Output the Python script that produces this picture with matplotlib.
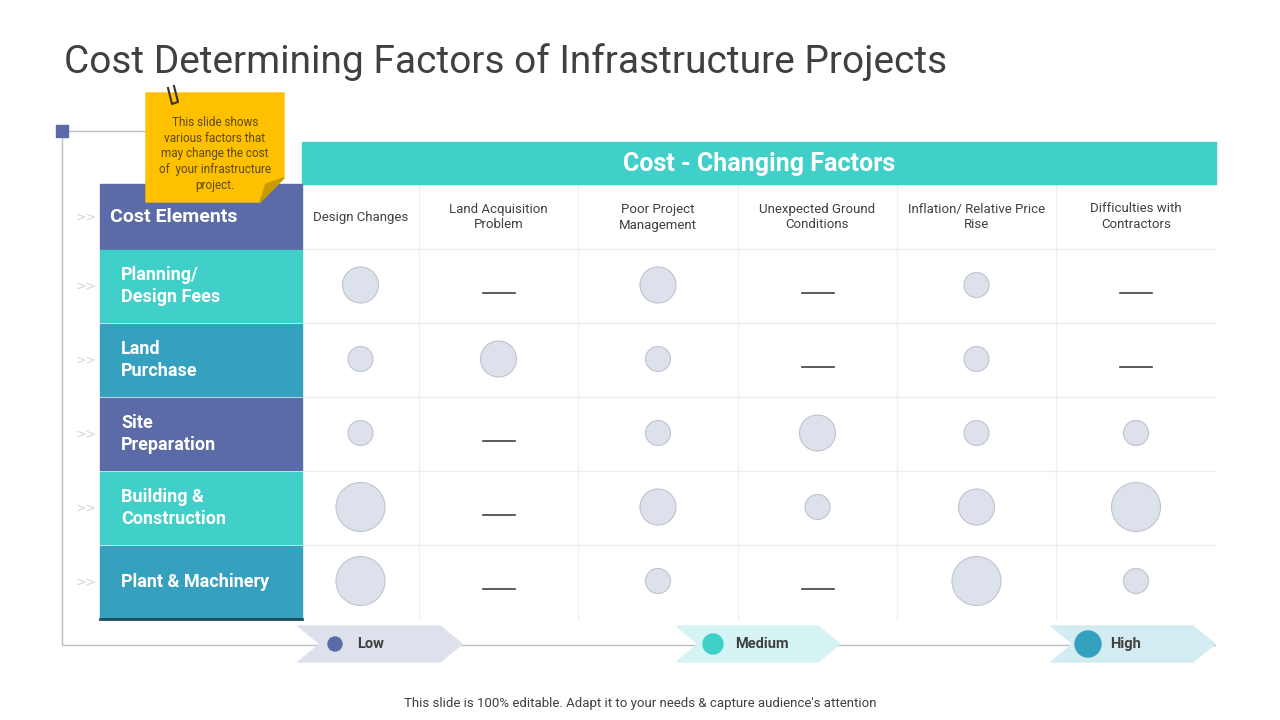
import matplotlib
matplotlib.use("Agg")
import matplotlib.pyplot as plt
from matplotlib.patches import Rectangle, Circle, Polygon

rows = ["Planning/\nDesign Fees", "Land\nPurchase", "Site\nPreparation", "Building &\nConstruction", "Plant & Machinery"]
cols = ["Design Changes", "Land Acquisition\nProblem", "Poor Project\nManagement", "Unexpected Ground\nConditions", "Inflation/ Relative Price\nRise", "Difficulties with\nContractors"]
# 0 = none (dash), 1 = low, 2 = medium, 3 = high
levels = [
    [2, 0, 2, 0, 1, 0],
    [1, 2, 1, 0, 1, 0],
    [1, 0, 1, 2, 1, 1],
    [3, 0, 2, 1, 2, 3],
    [3, 0, 1, 0, 3, 1],
]
legend_labels = ["Low", "Medium", "High"]

FONT = "Roboto"
fig = plt.figure(figsize=(12.8, 7.2), dpi=100)
ax = fig.add_axes([0, 0, 1, 1])
ax.set_xlim(0, 1280); ax.set_ylim(720, 0); ax.axis("off")

ax.text(64, 62, "Cost Determining Factors of Infrastructure Projects", fontsize=28, color="#404040",
        family=FONT, va="center")

# frame lines
ax.plot([62, 62, 1215], [131, 645, 645], color="#BFBFBF", lw=1, zorder=1)
ax.plot([62, 146], [131, 131], color="#BFBFBF", lw=1, zorder=1)
ax.add_patch(Rectangle((56, 125), 12, 12, color="#5B6BA8", zorder=3))

# header
ax.add_patch(Rectangle((302, 142), 914, 42, color="#40CFC9", zorder=2))
ax.text(759, 164, "Cost - Changing Factors", fontsize=18, color="white", weight="bold",
        family="Roboto Condensed" if False else FONT, ha="center", va="center", zorder=3)

xb = [302, 419, 578, 738, 897, 1056, 1216]
yb = [184, 249, 323, 397, 471, 545, 619]
left_colors = ["#40CFC9", "#36A0BF", "#5B6BA8", "#40CFC9", "#36A0BF"]

ax.add_patch(Rectangle((100, 184), 202, 65, color="#5B6BA8", zorder=2))
ax.text(110, 217, "Cost Elements", fontsize=14, color="white", weight="bold", family=FONT, va="center", zorder=3)
ax.text(86, 217, ">>", fontsize=9, color="#D0D4DC", ha="center", va="center")

for j, c in enumerate(cols):
    ax.text((xb[j] + xb[j+1]) / 2, 217, c, fontsize=9.5, color="#404040", family=FONT,
            ha="center", va="center", linespacing=1.3)
for j in range(1, 6):
    ax.plot([xb[j], xb[j]], [184, 619], color="#F0F0F0", lw=1, zorder=1)
for i in range(1, 6):
    ax.plot([302, 1216], [yb[i], yb[i]], color="#EEEEEE", lw=1, zorder=1)

radius = {1: 12.5, 2: 18, 3: 24.5}
for i, r in enumerate(rows):
    y0, y1 = yb[i+1], yb[i+2]
    ax.add_patch(Rectangle((100, y0 + 1), 202, y1 - y0 - 2, color=left_colors[i], zorder=2))
    ax.text(121, (y0 + y1) / 2, r, fontsize=13, color="white", weight="bold", family=FONT,
            va="center", linespacing=1.3, zorder=3)
    ax.text(86, (y0 + y1) / 2, ">>", fontsize=9, color="#D0D4DC", ha="center", va="center")
    cy = (y0 + y1) / 2
    for j, lv in enumerate(levels[i]):
        cx = (xb[j] + xb[j+1]) / 2
        if lv == 0:
            ax.plot([cx - 16, cx + 16], [cy + 7, cy + 7], color="#404040", lw=1.2, zorder=3)
        else:
            ax.add_patch(Circle((cx, cy - 1), radius[lv], facecolor="#DDE1EC", edgecolor="#BFC3CE",
                                lw=0.8, zorder=3))
ax.plot([100, 302], [619, 619], color="#1F4E5F", lw=2, zorder=3)

# legend chevrons
leg = [(298, "#DDE1EC", "#5B6BA8", 7), (676, "#D6F4F4", "#40CFC9", 10), (1051, "#D3ECF2", "#36A0BF", 13)]
for (x0, bg, dot, rr), lab in zip(leg, legend_labels):
    w = 164
    pts = [(x0, 626), (x0 + w - 22, 626), (x0 + w, 644), (x0 + w - 22, 662), (x0, 662), (x0 + 22, 644)]
    ax.add_patch(Polygon(pts, closed=True, color=bg, zorder=2))
    ax.add_patch(Circle((x0 + 37, 644), rr, color=dot, zorder=3))
    ax.text(x0 + 59, 644, lab, fontsize=10.5, color="#404040", weight="bold", family=FONT,
            va="center", zorder=3)

# sticky note
ax.add_patch(Polygon([(146, 93), (284, 93), (284, 178), (260, 202), (146, 202)], closed=True,
                     color="#FFC000", zorder=4))
ax.add_patch(Polygon([(284, 178), (260, 202), (266, 184)], closed=True, color="#C99A00", zorder=5))
ax.text(215, 154, "This slide shows\nvarious factors that\nmay change the cost\nof  your infrastructure\nproject.",
        fontsize=8.5, color="#5A4A10", family=FONT, ha="center", va="center", linespacing=1.25, zorder=5)
ax.plot([168, 172, 178, 174], [88, 104, 102, 86], color="#333333", lw=1.5, zorder=6)

ax.text(640, 703, "This slide is 100% editable. Adapt it to your needs & capture audience's attention",
        fontsize=9.5, color="#404040", family=FONT, ha="center", va="center")

fig.savefig("out.png", dpi=100)
